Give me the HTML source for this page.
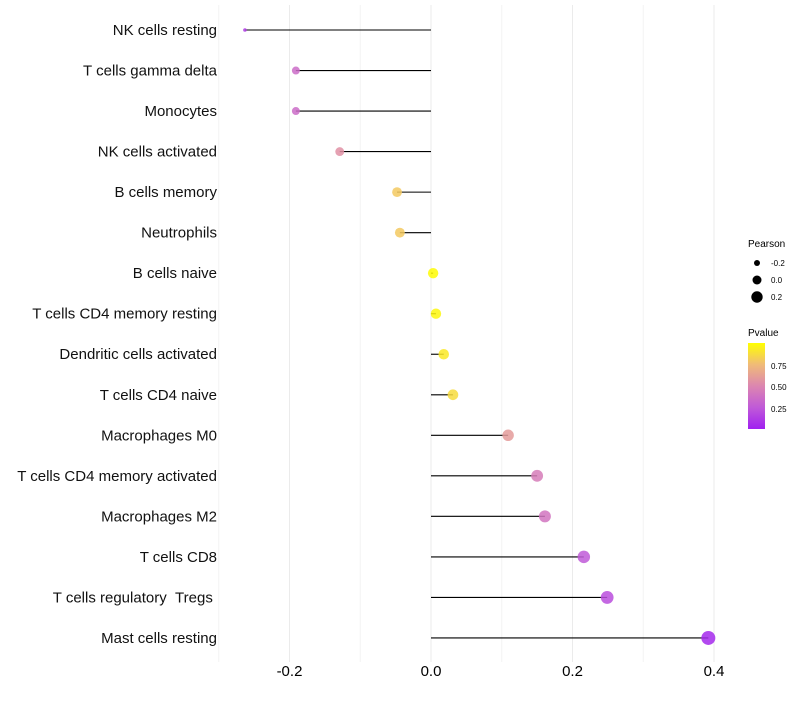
<!DOCTYPE html>
<html><head><meta charset="utf-8"><style>
body{margin:0;background:#fff;font-family:"Liberation Sans",sans-serif}
</style></head><body>
<svg id="chart" width="800" height="700" xmlns="http://www.w3.org/2000/svg">
<defs><linearGradient id="pg" x1="0" y1="1" x2="0" y2="0">
<stop offset="0" stop-color="#a020f0"/><stop offset="0.25" stop-color="#c05ad8"/><stop offset="0.5" stop-color="#dc86b0"/><stop offset="0.75" stop-color="#f0bb78"/><stop offset="1" stop-color="#ffff00"/></linearGradient></defs>
<g id="grid"></g><g id="marks"></g><g id="labels"></g><g id="legend"></g>
</svg>
<script>
const categories=["NK cells resting","T cells gamma delta","Monocytes","NK cells activated","B cells memory","Neutrophils","B cells naive","T cells CD4 memory resting","Dendritic cells activated","T cells CD4 naive","Macrophages M0","T cells CD4 memory activated","Macrophages M2","T cells CD8","T cells regulatory\u00a0\u00a0Tregs\u00a0","Mast cells resting"];
const pearson=[-0.263,-0.191,-0.191,-0.129,-0.048,-0.044,0.003,0.007,0.018,0.031,0.109,0.150,0.161,0.216,0.249,0.392];
const pvalue=[0.12,0.35,0.35,0.55,0.8,0.8,0.99,0.97,0.92,0.87,0.6,0.45,0.4,0.25,0.2,0.04];
const xticks=[-0.2,0,0.2,0.4];
const xtickLabels=["-0.2","0.0","0.2","0.4"];
const ns="http://www.w3.org/2000/svg";
const x=v=>431+v*707.5;
const y=i=>30+i*40.53;
const r=v=>v<-0.24?1.8:Math.sqrt(26.8+v*56.6);
const stops=[[0,[160,32,240]],[0.25,[192,90,216]],[0.5,[220,134,176]],[0.75,[240,187,120]],[1,[255,255,0]]];
function col(p){p=Math.max(0,Math.min(1,p));for(let k=1;k<stops.length;k++){if(p<=stops[k][0]){const a=stops[k-1],b=stops[k],t=(p-a[0])/(b[0]-a[0]);return"rgb("+a[1].map((c,j)=>Math.round(c+(b[1][j]-c)*t)).join(",")+")";}}}
function mk(tag,attrs,parent,txt){const e=document.createElementNS(ns,tag);for(const k in attrs)e.setAttribute(k,attrs[k]);if(txt!==undefined)e.textContent=txt;document.getElementById(parent).appendChild(e);return e;}
[-0.3,-0.1,0.1,0.3].forEach(v=>{const l=mk("line",{x1:x(v),x2:x(v),y1:5,y2:662,stroke:"#f4f4f4","stroke-width":1},"grid");

});
xticks.forEach((v,i)=>{const l=mk("line",{x1:x(v),x2:x(v),y1:5,y2:662,stroke:"#ebebeb","stroke-width":1},"grid");


const t=mk("text",{x:x(v),y:676,"text-anchor":"middle","font-size":15,fill:"#000"},"labels",xtickLabels[i]);

});
categories.forEach((c,i)=>{const t=mk("text",{x:217,y:y(i)+5,"text-anchor":"end","font-size":15,fill:"#111"},"labels",c);


const l=mk("line",{x1:x(0),x2:x(pearson[i]),y1:y(i),y2:y(i),stroke:"#000","stroke-width":1.1},"marks");


const d=mk("circle",{cx:x(pearson[i]),cy:y(i),r:r(pearson[i]),fill:col(pvalue[i]),"fill-opacity":0.85},"marks");

});
let t=mk("text",{x:748,y:247,"font-size":10},"legend","Pearson");


[-0.2,0,0.2].forEach((v,i)=>{const cy=263+i*17;const c=mk("circle",{cx:757,cy:cy,r:[3,4.5,5.7][i],fill:"#000"},"legend");


const tt=mk("text",{x:771,y:cy+3,"font-size":8},"legend",["-0.2","0.0","0.2"][i]);

});
t=mk("text",{x:748,y:336,"font-size":10},"legend","Pvalue");


const bar=mk("rect",{x:748,y:343,width:17,height:86,fill:"url(#pg)"},"legend");


[[0.75,366],[0.5,387],[0.25,409]].forEach(a=>{const tt=mk("text",{x:771,y:a[1]+3,"font-size":8},"legend",a[0].toFixed(2));

});
</script>
</body></html>
